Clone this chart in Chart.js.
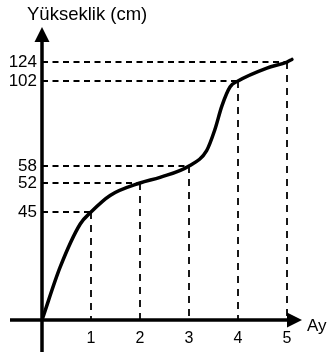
<!DOCTYPE html>
<html>
<head>
<meta charset="utf-8">
<script src="https://cdn.jsdelivr.net/npm/chart.js@4/dist/chart.umd.min.js"></script>
<style>
  html, body { margin: 0; padding: 0; background: #fff; }
  #wrap { width: 328px; height: 355px; position: relative; }
</style>
</head>
<body>
<div id="wrap"><canvas id="c"></canvas></div>
<script>
// ---- data ----
const months = [1, 2, 3, 4, 5];                 // x tick labels / marked months
const heights = [45, 52, 58, 102, 124];         // marked heights (cm)
// growth curve, values
const curveMonths  = [0, 0.37, 0.78, 1, 1.39, 2, 2.41, 3, 3.36, 3.53, 3.67, 3.84, 4, 4.59, 5, 5.1];
const curveHeights = [0, 22, 40, 45, 49, 52, 54, 58, 66, 77, 89, 99, 102, 117, 124, 127];
const yTitle = 'Yükseklik (cm)';
const xTitle = 'Ay';

// ---- schematic (non-uniform) value axis ----
class PiecewiseScale extends Chart.LinearScale {
  _decimalFor(value) {
    const v = this.options.breakValues, f = this.options.breakFractions;
    if (value <= v[0]) return f[0];
    for (let i = 1; i < v.length; i++) {
      if (value <= v[i]) {
        return f[i - 1] + (value - v[i - 1]) / (v[i] - v[i - 1]) * (f[i] - f[i - 1]);
      }
    }
    const n = v.length - 1;
    return f[n] + (value - v[n]) / (v[n] - v[n - 1]) * (f[n] - f[n - 1]);
  }
  getPixelForValue(value) {
    if (value === null || value === undefined) return NaN;
    return this.getPixelForDecimal(this._decimalFor(value));
  }
  getValueForPixel(pixel) {
    const d = this.getDecimalForPixel(pixel);
    const v = this.options.breakValues, f = this.options.breakFractions;
    for (let i = 1; i < f.length; i++) {
      if (d <= f[i]) return v[i - 1] + (d - f[i - 1]) / (f[i] - f[i - 1]) * (v[i] - v[i - 1]);
    }
    return v[v.length - 1];
  }
}
PiecewiseScale.id = 'piecewise';
PiecewiseScale.defaults = Chart.LinearScale.defaults;
Chart.register(PiecewiseScale);

const FONT = '"Liberation Sans", Arial, sans-serif';

const datasets = [{
  data: curveMonths.map((m, i) => ({ x: m, y: curveHeights[i] })),
  borderColor: '#000',
  borderWidth: 3.5,
  pointRadius: 0,
  cubicInterpolationMode: 'monotone',
  borderCapStyle: 'round',
  fill: false,
  order: 0
}];
months.forEach((m, i) => {
  // horizontal guide from the value axis to the point
  datasets.push({
    data: [{ x: 0, y: heights[i] }, { x: m, y: heights[i] }],
    borderColor: '#000',
    borderWidth: 1.8,
    borderDash: [6, 4.5],
    pointRadius: 0,
    tension: 0,
    fill: false,
    order: 1
  });
  // vertical guide from the point down to the month axis
  datasets.push({
    data: [{ x: m, y: heights[i] }, { x: m, y: 0 }],
    borderColor: '#000',
    borderWidth: 1.8,
    borderDash: [7, 6],
    pointRadius: 0,
    tension: 0,
    fill: false,
    order: 1
  });
});

const arrowAxes = {
  id: 'arrowAxes',
  afterDatasetsDraw(chart) {
    const { ctx, chartArea, scales: { x, y } } = chart;
    const ox = x.getPixelForValue(0), oy = y.getPixelForValue(0);
    ctx.save();
    ctx.strokeStyle = '#000';
    ctx.fillStyle = '#000';
    ctx.lineWidth = 3.5;
    ctx.lineCap = 'butt';
    // x axis
    ctx.beginPath();
    ctx.moveTo(ox - 32, oy);
    ctx.lineTo(chartArea.right - 12, oy);
    ctx.stroke();
    ctx.beginPath();
    ctx.moveTo(chartArea.right, oy);
    ctx.lineTo(chartArea.right - 15, oy - 7.5);
    ctx.lineTo(chartArea.right - 15, oy + 7.5);
    ctx.closePath();
    ctx.fill();
    // y axis
    ctx.beginPath();
    ctx.moveTo(ox, oy + 32);
    ctx.lineTo(ox, chartArea.top + 12);
    ctx.stroke();
    ctx.beginPath();
    ctx.moveTo(ox, chartArea.top);
    ctx.lineTo(ox - 7.5, chartArea.top + 15);
    ctx.lineTo(ox + 7.5, chartArea.top + 15);
    ctx.closePath();
    ctx.fill();
    // axis titles
    ctx.font = '18.5px ' + FONT;
    ctx.textAlign = 'left';
    ctx.textBaseline = 'middle';
    ctx.fillText(yTitle, ox - 15, 15);
    ctx.font = '17px ' + FONT;
    ctx.textBaseline = 'alphabetic';
    ctx.fillText(xTitle, chartArea.right + 5, oy + 11);
    ctx.restore();
  }
};

new Chart(document.getElementById('c'), {
  type: 'line',
  data: { datasets },
  options: {
    responsive: true,
    maintainAspectRatio: false,
    animation: false,
    events: [],
    layout: { padding: { top: 27, right: 26, left: 0, bottom: 0 } },
    plugins: { legend: { display: false }, tooltip: { enabled: false } },
    scales: {
      x: {
        type: 'linear',
        min: 0,
        max: 5.306,
        grid: { display: false, drawTicks: false },
        border: { display: false },
        afterBuildTicks: (s) => { s.ticks = months.map(v => ({ value: v })); },
        afterFit: (s) => { s.height = 35; },
        ticks: {
          color: '#000',
          font: { family: FONT, size: 16 },
          padding: 9,
          maxRotation: 0,
          callback: (v) => String(v)
        }
      },
      y: {
        type: 'piecewise',
        min: 0,
        max: 165,
        breakValues: [0, 45, 52, 58, 102, 124, 165],
        breakFractions: [0, 0.3686, 0.4676, 0.5256, 0.8157, 0.8805, 1],
        grid: { display: false, drawTicks: false },
        border: { display: false },
        afterBuildTicks: (s) => { s.ticks = heights.map(v => ({ value: v })); },
        afterFit: (s) => { s.width = 42; },
        ticks: {
          color: '#000',
          font: { family: FONT, size: 17 },
          padding: 5,
          callback: (v) => String(v)
        }
      }
    }
  },
  plugins: [arrowAxes]
});
</script>
</body>
</html>
